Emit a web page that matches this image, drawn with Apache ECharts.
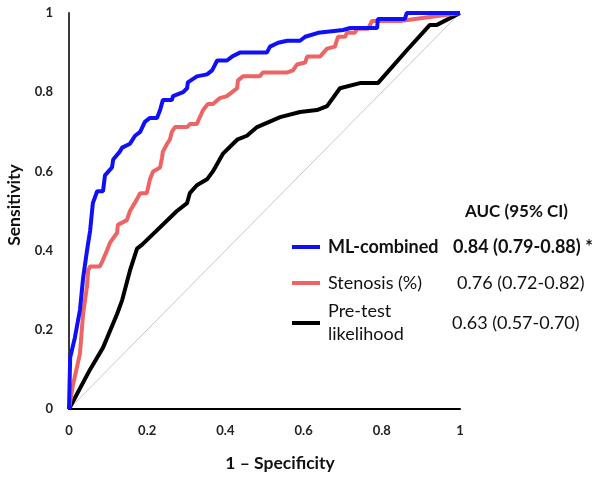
<!DOCTYPE html>
<html>
<head>
<meta charset="utf-8">
<script src="https://cdn.jsdelivr.net/npm/echarts@6/dist/echarts.min.js"></script>
<style>
html,body{margin:0;padding:0;background:#fff;}
#chart{width:603px;height:480px;}
</style>
</head>
<body>
<div id="chart"></div>
<script>
// ---- data (1 - specificity, sensitivity) ----
var mlCombined = [
  [0,0],[0.003,0.13],[0.015,0.18],[0.028,0.25],[0.036,0.33],[0.046,0.40],[0.054,0.45],
  [0.061,0.52],[0.072,0.55],[0.087,0.55],[0.092,0.59],[0.110,0.61],[0.113,0.63],
  [0.130,0.65],[0.136,0.66],[0.156,0.67],[0.169,0.69],[0.182,0.70],[0.194,0.725],
  [0.207,0.735],[0.225,0.735],[0.233,0.755],[0.240,0.78],[0.263,0.78],[0.266,0.79],
  [0.292,0.80],[0.302,0.81],[0.304,0.825],[0.327,0.84],[0.353,0.845],[0.366,0.855],
  [0.379,0.88],[0.404,0.88],[0.417,0.89],[0.437,0.90],[0.506,0.90],[0.514,0.915],
  [0.535,0.925],[0.558,0.93],[0.591,0.93],[0.604,0.94],[0.637,0.95],[0.701,0.957],
  [0.719,0.962],[0.788,0.962],[0.790,0.985],[0.859,0.985],[0.864,1.0],[1,1]
];
var stenosis = [
  [0,0],[0.010,0.06],[0.028,0.14],[0.036,0.24],[0.046,0.31],[0.049,0.35],[0.054,0.36],
  [0.079,0.36],[0.084,0.37],[0.097,0.40],[0.105,0.42],[0.123,0.445],[0.125,0.465],
  [0.148,0.477],[0.156,0.50],[0.174,0.53],[0.182,0.545],[0.199,0.545],[0.207,0.58],
  [0.215,0.60],[0.233,0.61],[0.238,0.635],[0.240,0.65],[0.251,0.67],[0.258,0.68],
  [0.263,0.70],[0.271,0.712],[0.302,0.712],[0.310,0.72],[0.327,0.72],[0.343,0.755],
  [0.355,0.77],[0.368,0.77],[0.386,0.785],[0.404,0.79],[0.417,0.80],[0.430,0.81],
  [0.432,0.83],[0.445,0.84],[0.488,0.84],[0.496,0.85],[0.558,0.85],[0.573,0.855],
  [0.583,0.87],[0.604,0.875],[0.609,0.89],[0.642,0.89],[0.660,0.91],[0.680,0.915],
  [0.688,0.94],[0.706,0.94],[0.711,0.95],[0.731,0.95],[0.737,0.96],[0.765,0.96],
  [0.775,0.98],[0.847,0.98],[1,1]
];
var preTest = [
  [0,0],[0.054,0.10],[0.087,0.155],[0.123,0.24],[0.136,0.275],[0.156,0.35],[0.174,0.405],
  [0.187,0.415],[0.276,0.50],[0.302,0.52],[0.309,0.545],[0.327,0.565],[0.353,0.58],
  [0.368,0.60],[0.394,0.645],[0.430,0.68],[0.455,0.69],[0.481,0.712],[0.540,0.737],
  [0.591,0.75],[0.634,0.755],[0.660,0.765],[0.693,0.81],[0.744,0.823],[0.790,0.823],
  [0.864,0.906],[0.923,0.97],[0.941,0.97],[1,1]
];
var chance = [[0,0],[1,1]];
var seriesNames = ['ML-combined', 'Stenosis (%)', 'Pre-test\nlikelihood'];
var aucLabels = ['0.84 (0.79-0.88) *', '0.76 (0.72-0.82)', '0.63 (0.57-0.70)'];
var aucHeader = 'AUC (95% CI)';
var xTitle = '1 \u2013 Specificity';
var yTitle = 'Sensitivity';

var colors = ['#1010f8', '#ee6363', '#000000'];
var FONT = 'Lato, "Open Sans", sans-serif';

var chart = echarts.init(document.getElementById('chart'));
var lineSeries = function (data, color, w, z) {
  return {type: 'line', data: data, showSymbol: false, symbol: 'none',
    lineStyle: {color: color, width: w}, z: z, animation: false};
};
var legendY = [247, 283, 323];
var aucX = [453, 457, 452];
var graphics = [];
for (var i = 0; i < 3; i++) {
  graphics.push({type: 'rect', shape: {x: 292, y: legendY[i] - 2, width: 28, height: 4},
    style: {fill: colors[i]}});
  graphics.push({type: 'text', x: 328, y: legendY[i],
    style: {text: seriesNames[i], fill: '#111', font: (i === 0 ? 'bold ' : '') + '18px ' + FONT,
      textVerticalAlign: 'middle', lineHeight: 23}});
  graphics.push({type: 'text', x: aucX[i], y: legendY[i],
    style: {text: aucLabels[i], fill: '#111', font: (i === 0 ? 'bold ' : '') + '18px ' + FONT,
      textVerticalAlign: 'middle'}});
}
graphics.push({type: 'text', x: 465, y: 212,
  style: {text: aucHeader, fill: '#111', font: 'bold 17px ' + FONT, textVerticalAlign: 'middle'}});
graphics.push({type: 'text', x: 280, y: 463,
  style: {text: xTitle, fill: '#111', font: 'bold 17.5px ' + FONT, textAlign: 'center', textVerticalAlign: 'middle'}});
graphics.push({type: 'text', x: 14, y: 205, rotation: Math.PI / 2,
  style: {text: yTitle, fill: '#111', font: 'bold 17.5px ' + FONT, textAlign: 'center', textVerticalAlign: 'middle'}});

chart.setOption({
  animation: false,
  grid: {left: 69, top: 13, right: 143, bottom: 71, containLabel: false},
  xAxis: {type: 'value', min: 0, max: 1, interval: 0.2,
    axisLine: {show: true, onZero: false, lineStyle: {color: '#000', width: 2}},
    axisTick: {show: false}, splitLine: {show: false},
    axisLabel: {margin: 15, color: '#222', fontWeight: 'bold', fontSize: 13, fontFamily: FONT}},
  yAxis: {type: 'value', min: 0, max: 1, interval: 0.2,
    axisLine: {show: true, onZero: false, lineStyle: {color: '#3a3a3a', width: 2}},
    axisTick: {show: false}, splitLine: {show: false},
    axisLabel: {margin: 16, color: '#222', fontWeight: 'bold', fontSize: 13, fontFamily: FONT}},
  series: [
    lineSeries(chance, '#c8c8c8', 1, 1),
    lineSeries(preTest, colors[2], 4, 2),
    lineSeries(stenosis, colors[1], 4, 3),
    lineSeries(mlCombined, colors[0], 4, 4)
  ],
  graphic: graphics
});
</script>
</body>
</html>
